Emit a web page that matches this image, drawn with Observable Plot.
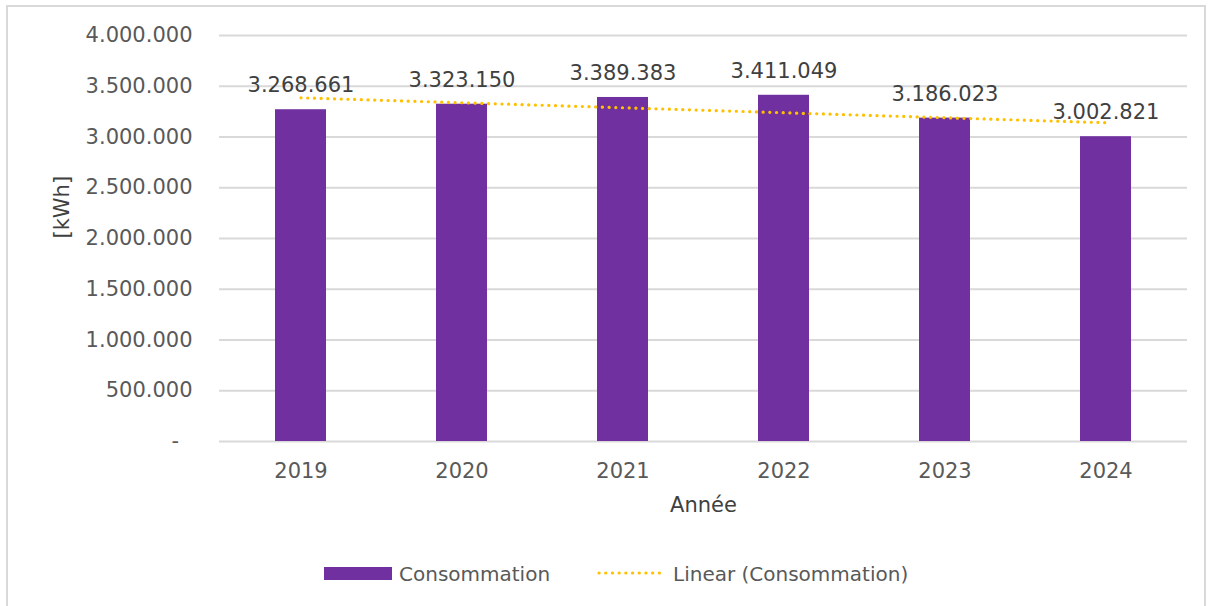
<!DOCTYPE html>
<html>
<head>
<meta charset="utf-8">
<script src="https://cdn.jsdelivr.net/npm/d3@7"></script>
<script src="https://cdn.jsdelivr.net/npm/@observablehq/plot@0.6"></script>
<style>
  html, body { margin: 0; padding: 0; background: #fff; }
  #wrap { position: relative; width: 1212px; height: 606px; overflow: hidden; font-family: "DejaVu Sans", sans-serif; }
  #border { position: absolute; left: 6px; top: 5px; width: 1200px; height: 605px; border: 2px solid #d9d9d9; box-sizing: border-box; }
  #chart { position: absolute; left: 0; top: 0; }
  .leg { position: absolute; font-size: 20px; color: #595959; line-height: 24px; white-space: nowrap; }
</style>
</head>
<body>
<div id="wrap">
  <div id="border"></div>
  <div id="chart"></div>
  <div id="legend"></div>
</div>
<script>
const years = ["2019", "2020", "2021", "2022", "2023", "2024"];
const consommation = [3268661, 3323150, 3389383, 3411049, 3186023, 3002821];
const yTicks = [0, 500000, 1000000, 1500000, 2000000, 2500000, 3000000, 3500000, 4000000];
const seriesName = "Consommation";
const trendName = "Linear (Consommation)";
const yTitle = "[kWh]";
const xTitle = "Année";

const loc = d3.formatLocale({decimal: ",", thousands: ".", grouping: [3], currency: ["", ""]});
const fmt = loc.format(",d");
const fmtTick = v => v === 0 ? "-\u00a0\u00a0" : fmt(v);

const data = years.map((y, i) => ({year: y, value: consommation[i]}));

// least-squares linear trend over the category index
const mx = d3.mean(data, (d, i) => i);
const my = d3.mean(data, d => d.value);
const slope = d3.sum(data, (d, i) => (i - mx) * (d.value - my)) / d3.sum(data, (d, i) => (i - mx) ** 2);
const trend = data.map((d, i) => ({year: d.year, value: my + slope * (i - mx)}));

const purple = "#7030A0";
const gold = "#FFC000";

const chart = Plot.plot({
  width: 1212,
  height: 530,
  marginLeft: 219,
  marginRight: 25,
  marginTop: 35,
  marginBottom: 89,
  style: {fontFamily: "DejaVu Sans, sans-serif", fontSize: "21px", color: "#595959", background: "transparent"},
  x: {type: "band", domain: years, paddingInner: 0.684, paddingOuter: 0.342, label: null},
  y: {domain: [0, 4000000], label: null},
  marks: [
    Plot.ruleY(yTicks, {stroke: "#d9d9d9", strokeWidth: 2}),
    Plot.barY(data, {x: "year", y: "value", fill: purple}),
    Plot.line(trend, {x: "year", y: "value", stroke: gold, strokeWidth: 3.2, strokeDasharray: "0.1 6.6", strokeLinecap: "round"}),
    Plot.text(data, {x: "year", y: "value", text: d => fmt(d.value), dy: -24, fill: "#404040", fontSize: 21}),
    Plot.axisY({ticks: yTicks, tickFormat: fmtTick, tickSize: 0, tickPadding: 27, fontSize: 21, label: null}),
    Plot.axisX({tickSize: 0, tickPadding: 22, fontSize: 21, label: null}),
    Plot.text([yTitle], {frameAnchor: "left", dx: -157, rotate: -90, fill: "#404040", fontSize: 21}),
    Plot.text([xTitle], {frameAnchor: "bottom", dy: 70, fill: "#404040", fontSize: 21, fontWeight: 500})
  ]
});
document.getElementById("chart").appendChild(chart);

// legend
const legend = document.getElementById("legend");
legend.innerHTML = `
  <div style="position:absolute;left:324px;top:567px;width:68px;height:13px;background:${purple}"></div>
  <div class="leg" style="left:399px;top:562px">${seriesName}</div>
  <svg style="position:absolute;left:597px;top:566px" width="72" height="14">
    <line x1="2" y1="7" x2="68" y2="7" stroke="${gold}" stroke-width="3.2" stroke-dasharray="0.1 6.6" stroke-linecap="round"/>
  </svg>
  <div class="leg" style="left:673px;top:562px">${trendName}</div>
`;
</script>
</body>
</html>
